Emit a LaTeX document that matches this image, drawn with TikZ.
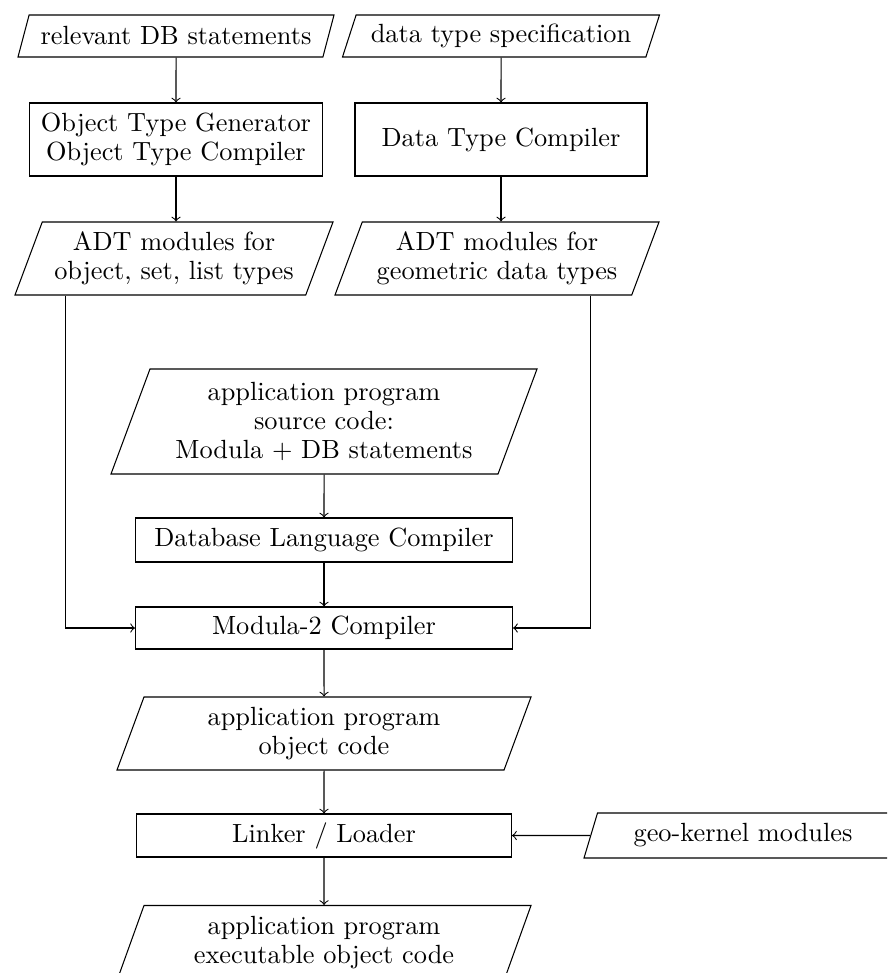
\documentclass[tikz,border=0pt]{standalone}
\usetikzlibrary{shapes.geometric}

\newlength\px
\setlength\px{0.38pt}

\tikzset{
	proc/.style={draw, rectangle, align=center, inner sep=1pt, font=\fontsize{10}{11.2}\selectfont},
	data/.style={draw, trapezium, trapezium left angle=65, trapezium right angle=115,
		trapezium stretches body, align=center, inner xsep=0pt, inner ysep=1pt,
		font=\fontsize{10}{11}\selectfont},
}

\begin{document}
\begin{tikzpicture}[x=0.38pt, y=-0.38pt, >=to]

	\useasboundingbox (0,0) rectangle (887,973);
	\clip (0,0) rectangle (887,973);

	% top row
	\node[data, minimum width=316\px, minimum height=42\px] (reldb) at (176,36) {relevant DB statements};
	\node[data, minimum width=317\px, minimum height=42\px] (dtspec) at (501,36) {data type specification};

	\node[proc, minimum width=293\px, minimum height=73\px] (otc) at (176,139.5) {Object Type Generator\\Object Type Compiler};
	\node[proc, minimum width=292\px, minimum height=73\px] (dtc) at (501,139.5) {Data Type Compiler};

	\node[data, minimum width=318\px, minimum height=73\px] (adtobj) at (174,258.5) {ADT modules for\\object, set, list types};
	\node[data, minimum width=324\px, minimum height=73\px] (adtgeo) at (497,258.5) {ADT modules for\\geometric data types};

	% middle column
	\node[data, minimum width=426\px, minimum height=105\px] (src) at (324,421.5) {application program\\source code:\\Modula + DB statements};
	\node[proc, minimum width=377\px, minimum height=44\px] (dblc) at (324,540) {Database Language Compiler};
	\node[proc, minimum width=377\px, minimum height=42\px] (m2c) at (324,628) {Modula-2 Compiler};
	\node[data, minimum width=414\px, minimum height=73\px] (objcode) at (324,733.5) {application program\\object code};
	\node[proc, minimum width=375\px, minimum height=43\px] (link) at (324,835.5) {Linker / Loader};
	\node[data, minimum width=318\px, minimum height=45\px] (geo) at (743,835.5) {geo-kernel modules};
	\node[data, minimum width=414\px, minimum height=75\px] (exe) at (324,943) {application program\\executable object code};

	% arrows
	\draw[->] (reldb) -- (otc);
	\draw[->] (otc) -- (otc |- adtobj.north);
	\draw[->] (dtspec) -- (dtc);
	\draw[->] (dtc) -- (dtc |- adtgeo.north);

	\draw[->] ([xshift=51\px]adtobj.bottom left corner) |- (m2c.west);
	\draw[->] ([xshift=-42\px]adtgeo.bottom right corner) |- (m2c.east);

	\draw[->] (src) -- (dblc);
	\draw[->] (dblc) -- (m2c);
	\draw[->] (m2c) -- (objcode);
	\draw[->] (objcode) -- (link);
	\draw[->] (geo) -- (link);
	\draw[->] (link) -- (exe);

\end{tikzpicture}
\end{document}
